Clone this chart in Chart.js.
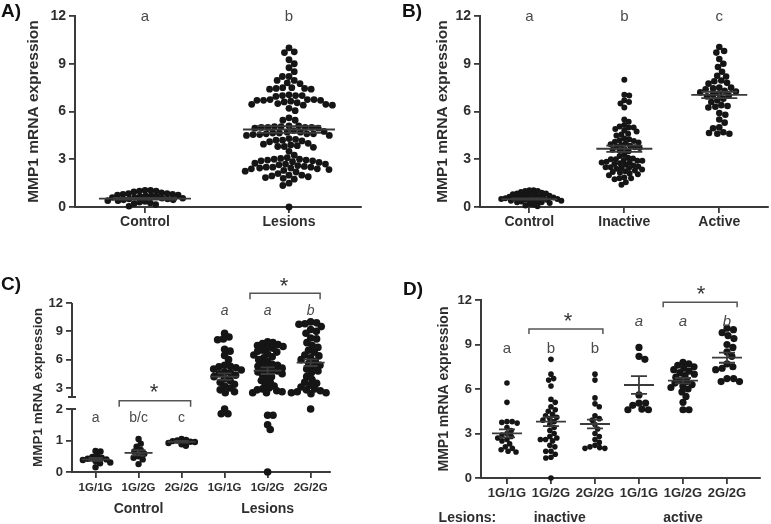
<!DOCTYPE html>
<html>
<head>
<meta charset="utf-8">
<script src="https://cdn.jsdelivr.net/npm/chart.js@4.4.1/dist/chart.umd.min.js"></script>
<style>
  body { margin: 0; background: #fff; width: 771px; height: 524px; position: relative; overflow: hidden; }
  .panel { position: absolute; }
</style>
</head>
<body>
<div class="panel" style="left:0;top:0;width:385px;height:260px"><canvas id="chartA"></canvas></div>
<div class="panel" style="left:385px;top:0;width:386px;height:260px"><canvas id="chartB"></canvas></div>
<div class="panel" style="left:0;top:260px;width:385px;height:264px"><canvas id="chartC"></canvas></div>
<div class="panel" style="left:385px;top:260px;width:386px;height:264px"><canvas id="chartD"></canvas></div>
<script>
const FONT = "'Liberation Sans', Arial, Helvetica, sans-serif";
const INK = '#2e2e2e';
const DOT = '#151515';
const LETTER = '#4a4a4a';

// Panel A
const aCategories = ['Control', 'Lesions'];
const aLetters = ['a', 'b'];
const aControl = [1.05, 1.05, 1.0, 1.0, 0.95, 0.9, 0.85, 0.85, 0.8, 0.8, 0.75, 0.75, 0.7, 0.7, 0.65, 0.65,
  0.6, 0.6, 0.55, 0.55, 0.5, 0.5, 0.45, 0.45, 0.4, 0.4, 0.35, 0.3, 0.25, 0.2, 0.15, 0.05];
const aLesions = [10.0, 9.75, 9.7, 9.25, 9.0, 8.75, 8.5, 8.2, 8.2, 7.95, 7.95, 7.8, 7.75, 7.5, 7.5, 7.45, 7.45,
  7.4, 7.4, 7.05, 7.0, 7.0, 7.0, 6.95,
  6.75, 6.75, 6.75, 6.7, 6.7, 6.7, 6.65, 6.6, 6.55, 6.5, 6.45, 6.45, 6.4, 6.4,
  6.2, 6.05, 5.6, 5.45, 5.45,
  5.1, 5.1, 5.05, 5.05, 5.0, 5.0, 5.0, 5.0, 4.95, 4.95,
  4.8, 4.75, 4.7, 4.7, 4.65, 4.65, 4.6, 4.6, 4.6, 4.55, 4.55, 4.5, 4.5,
  4.3, 4.25, 4.2, 4.2, 4.15, 4.1, 4.0, 3.95, 3.9, 3.85, 3.8, 3.8, 3.75,
  3.5, 3.25,
  3.1, 3.05, 3.0, 3.0, 2.95, 2.95, 2.9, 2.9, 2.85, 2.8, 2.75, 2.7, 2.7, 2.65, 2.6,
  2.55, 2.5, 2.5, 2.5, 2.45, 2.45, 2.4, 2.4, 2.35, 2.3, 2.25, 2.2,
  2.1, 2.0, 2.0, 1.95, 1.9, 1.85, 1.8, 1.75, 1.5, 1.35, 0.0];
const aMean = [0.52, 4.87];
const aSem = [0.05, 0.21];

// Panel B
const bCategories = ['Control', 'Inactive', 'Active'];
const bLetters = ['a', 'b', 'c'];
const bControl = [1.05, 1.05, 1.0, 1.0, 0.95, 0.9, 0.85, 0.85, 0.8, 0.8, 0.75, 0.75, 0.7, 0.7, 0.65, 0.65,
  0.6, 0.6, 0.6, 0.55, 0.55, 0.5, 0.5, 0.5, 0.45, 0.45, 0.45, 0.4, 0.4, 0.35, 0.35, 0.3, 0.3, 0.25, 0.2, 0.15, 0.1, 0.05];
const bInactive = [8.0, 7.05, 7.0, 6.7, 6.6, 6.5, 6.25, 5.5, 5.35, 5.15, 5.05, 5.0, 5.0, 4.9, 4.8, 4.75, 4.6, 4.55,
  4.5, 4.3, 4.25, 4.2, 4.15, 4.1, 4.05, 4.0, 3.95, 3.9, 3.85, 3.8, 3.75, 3.7, 3.65, 3.6, 3.55, 3.5, 3.3, 3.2,
  3.1, 3.05, 3.0, 3.0, 2.95, 2.9, 2.9, 2.85, 2.8, 2.8, 2.75, 2.7, 2.65, 2.6, 2.55, 2.5, 2.5, 2.45, 2.45, 2.4,
  2.35, 2.3, 2.25, 2.2, 2.15, 2.1, 2.05, 2.0, 1.85, 1.8, 1.8, 1.75, 1.55, 1.4];
const bActive = [10.05, 9.8, 9.7, 9.3, 9.0, 8.8, 8.5, 8.25, 8.2, 7.95, 7.9, 7.8, 7.75, 7.5, 7.5, 7.45, 7.4, 7.3,
  7.25, 7.2, 7.1, 7.05, 7.0, 6.95, 6.8, 6.7, 6.6, 6.4, 6.35, 6.3, 6.25, 5.9, 5.8, 5.5, 5.3, 5.0, 4.95, 4.7,
  4.65, 4.6, 4.6];
const bMean = [0.5, 3.66, 7.04];
const bSem = [0.04, 0.2, 0.2];

const yTicks = [0, 3, 6, 9, 12];

// Panel C (genotypes, broken y axis)
const genotypes = ['1G/1G', '1G/2G', '2G/2G', '1G/1G', '1G/2G', '2G/2G'];
const cLettersLow = ['a', 'b/c', 'c'];
const cLettersHigh = ['a', 'a', 'b'];
const cTicks = [0, 1, 2, 3, 6, 9, 12];
const cControl11 = [0.67, 0.65, 0.52, 0.48, 0.45, 0.42, 0.4, 0.38, 0.35, 0.3, 0.28, 0.15];
const cControl12 = [1.05, 0.9, 0.8, 0.7, 0.65, 0.58, 0.5, 0.45, 0.4, 0.25];
const cControl22 = [1.05, 1.02, 1.0, 0.98, 0.96, 0.95, 0.92, 0.88, 0.83];
const cLesion11 = [8.8, 8.4, 8.2, 8.1, 7.1, 6.9, 6.45, 6.0, 5.4, 5.3, 5.25, 5.15, 5.0, 4.9, 4.7, 4.6, 4.5, 4.35,
  4.2, 4.0, 3.8, 3.6, 3.4, 3.2, 3.0, 2.8, 2.6, 2.5, 2.0, 1.85, 1.85];
const cLesion12 = [7.9, 7.8, 7.7, 7.6, 7.5, 7.4, 7.3, 7.2, 7.0, 6.9, 6.8, 6.6, 6.5, 6.3, 6.2, 6.0, 5.8, 5.6, 5.5,
  5.4, 5.3, 5.2, 5.1, 5.0, 4.9, 4.8, 4.7, 4.6, 4.5, 4.4, 4.2, 4.0, 3.8, 3.6, 3.4, 3.2, 3.0, 2.9, 2.8, 2.7,
  2.6, 2.5, 2.5, 1.8, 1.8, 1.5, 1.35, 0.0];
const cLesion22 = [10.0, 9.9, 9.8, 9.75, 9.5, 9.2, 9.0, 8.8, 8.3, 8.2, 7.8, 7.5, 7.3, 7.0, 6.8, 6.5, 6.4, 6.2,
  6.0, 5.8, 5.6, 5.4, 5.2, 5.0, 4.8, 4.6, 4.2, 3.9, 3.6, 3.5, 3.3, 3.1, 2.9, 2.8, 2.7, 2.6, 2.5, 2.5, 2.4, 2.0];
const cMean = [0.4, 0.61, 0.96, 4.2, 4.83, 5.68];
const cSem = [0.05, 0.08, 0.03, 0.35, 0.35, 0.35];

// Panel D (lesion activity x genotype)
const dLettersInactive = ['a', 'b', 'b'];
const dLettersActive = ['a', 'a', 'b'];
const dInactive11 = [6.4, 5.1, 3.8, 3.8, 3.75, 3.7, 3.4, 3.2, 3.0, 2.9, 2.8, 2.7, 2.6, 2.5, 2.3, 2.1, 2.0, 1.9, 1.8, 1.75];
const dInactive12 = [8.0, 7.0, 6.7, 6.6, 6.2, 5.3, 5.1, 4.8, 4.6, 4.5, 4.3, 4.2, 4.1, 4.0, 3.9, 3.8, 3.6, 3.4, 3.2,
  3.0, 2.8, 2.7, 2.6, 2.6, 2.5, 2.2, 2.1, 1.8, 1.8, 1.6, 1.4, 1.35, 0.0];
const dInactive22 = [7.0, 6.6, 5.4, 5.0, 4.8, 4.2, 4.0, 3.9, 3.6, 3.3, 3.0, 2.8, 2.6, 2.4, 2.2, 2.1, 2.05, 2.0, 2.0];
const dActive11 = [8.8, 8.2, 8.0, 5.6, 5.05, 5.05, 4.9, 4.65, 4.6, 4.6];
const dActive12 = [7.8, 7.7, 7.6, 7.5, 7.4, 7.3, 7.2, 7.1, 7.0, 6.9, 6.8, 6.6, 6.5, 6.4, 6.3, 6.2, 6.1, 6.0, 5.8,
  5.5, 5.1, 4.6, 4.6];
const dActive22 = [10.1, 10.0, 9.8, 9.6, 9.4, 9.0, 8.8, 8.5, 8.2, 7.7, 7.5, 7.4, 7.3, 6.7, 6.7, 6.5, 6.5];
const dMean = [3.01, 3.8, 3.64, 6.27, 6.56, 8.11];
const dSem = [0.27, 0.3, 0.3, 0.6, 0.18, 0.34];

// broken axis for panel C: 0-2 stretched, 3-12 compressed
function cBreak(v) {
  return v <= 2.1 ? v * 31.5 : 84 + (v - 3) * 9.44;
}

// simple beeswarm in pixel space
function swarm(values, center, chart, tf, gap) {
  const xs = chart.scales.x, ys = chart.scales.y;
  const placed = [];
  const out = new Array(values.length);
  const order = values.map((v, i) => i).sort((i, j) => values[j] - values[i]);
  order.forEach(i => {
    const py = ys.getPixelForValue(tf(values[i]));
    const cands = [0];
    placed.forEach(p => {
      const dy = Math.abs(p.y - py);
      if (dy < gap) {
        const dx = Math.sqrt(gap * gap - dy * dy);
        cands.push(p.x + dx, p.x - dx);
      }
    });
    cands.sort((a, b) => Math.abs(a) - Math.abs(b));
    const dx = cands.find(c => placed.every(p => (p.x - c) ** 2 + (p.y - py) ** 2 >= gap * gap - 0.01));
    placed.push({ x: dx, y: py });
    out[i] = { x: xs.getValueForPixel(xs.getPixelForValue(center) + dx), y: tf(values[i]) };
  });
  return out;
}

function text(ctx, str, x, y, size, opts = {}) {
  ctx.save();
  ctx.font = `${opts.style || 'normal'} ${opts.weight || 'normal'} ${size}px ${FONT}`;
  ctx.fillStyle = opts.color || INK;
  ctx.textAlign = opts.align || 'center';
  ctx.textBaseline = 'middle';
  ctx.fillText(str, x, y);
  ctx.restore();
}

function bracket(ctx, x1, x2, y, drop) {
  ctx.save();
  ctx.strokeStyle = '#555';
  ctx.lineWidth = 1.5;
  ctx.beginPath();
  ctx.moveTo(x1, y + drop);
  ctx.lineTo(x1, y);
  ctx.lineTo(x2, y);
  ctx.lineTo(x2, y + drop);
  ctx.stroke();
  ctx.restore();
}

function makePanel(id, p) {
  const tf = p.transform || (v => v);
  const meanSem = {
    id: 'meanSem',
    afterDatasetsDraw(chart) {
      const { ctx } = chart;
      const xs = chart.scales.x, ys = chart.scales.y;
      ctx.save();
      ctx.strokeStyle = '#3a3a3a';
      ctx.lineWidth = 1.8;
      p.mean.forEach((m, i) => {
        const cx = xs.getPixelForValue(i);
        const my = ys.getPixelForValue(tf(m));
        const top = ys.getPixelForValue(tf(m + p.sem[i]));
        const bot = ys.getPixelForValue(tf(m - p.sem[i]));
        ctx.beginPath();
        ctx.moveTo(cx - p.meanHalf, my); ctx.lineTo(cx + p.meanHalf, my);
        ctx.moveTo(cx - p.semHalf, top); ctx.lineTo(cx + p.semHalf, top);
        ctx.moveTo(cx - p.semHalf, bot); ctx.lineTo(cx + p.semHalf, bot);
        ctx.moveTo(cx, top); ctx.lineTo(cx, bot);
        ctx.stroke();
      });
      ctx.restore();
    },
    afterDraw(chart) {
      const xs = chart.scales.x, ys = chart.scales.y;
      p.extras(chart.ctx, v => xs.getPixelForValue(v), v => ys.getPixelForValue(v), chart.chartArea);
    }
  };

  const chart = new Chart(document.getElementById(id), {
    type: 'scatter',
    data: {
      datasets: p.groups.map((g, i) => ({
        data: [],
        pointRadius: p.radius[i],
        pointHoverRadius: p.radius[i],
        backgroundColor: DOT,
        borderWidth: 0,
        clip: false
      }))
    },
    options: {
      responsive: true,
      maintainAspectRatio: false,
      animation: false,
      events: [],
      layout: { padding: p.padding },
      plugins: { legend: { display: false }, tooltip: { enabled: false } },
      scales: {
        x: {
          type: 'linear',
          min: p.xMin,
          max: p.xMax,
          afterBuildTicks: s => { s.ticks = p.categories.map((c, i) => ({ value: i })); },
          afterFit: s => { s.height = p.xHeight; },
          grid: { drawOnChartArea: false, tickLength: 6, color: '#3a3a3a', lineWidth: 1.8 },
          border: { color: '#3a3a3a', width: 2 },
          ticks: {
            color: INK,
            padding: p.xTickPad,
            maxRotation: 0,
            autoSkip: false,
            font: { family: FONT, size: p.xFont, weight: 'bold' },
            callback: (v, i) => p.categories[i]
          }
        },
        y: {
          type: 'linear',
          min: 0,
          max: tf(12),
          afterBuildTicks: s => { s.ticks = p.yTicks.map(v => ({ value: tf(v) })); },
          afterFit: s => { s.width = p.yWidth; },
          grid: { drawOnChartArea: false, tickLength: 6, color: '#3a3a3a', lineWidth: 1.8 },
          border: { display: !p.broken, color: '#3a3a3a', width: 2 },
          ticks: {
            color: INK,
            padding: 3,
            font: { family: FONT, size: p.yFont, weight: 'bold' },
            callback: (v, i) => String(p.yTicks[i])
          },
          title: {
            display: true,
            text: 'MMP1 mRNA expression',
            color: INK,
            font: { family: FONT, size: p.titleFont, weight: 'bold' },
            padding: { top: p.titlePad, bottom: 0 }
          }
        }
      }
    },
    plugins: [meanSem]
  });

  chart.data.datasets.forEach((ds, i) => {
    ds.data = swarm(p.groups[i], i, chart, tf, p.gap[i]);
  });
  chart.update();
  return chart;
}

// A
makePanel('chartA', {
  categories: aCategories,
  groups: [aControl, aLesions],
  mean: aMean, sem: aSem,
  radius: [3.3, 3.4], gap: [5.6, 6.6],
  meanHalf: 46, semHalf: 32,
  padding: { left: 0, top: 16, right: 24, bottom: 0 },
  xMin: -0.486, xMax: 1.5, xHeight: 53, xTickPad: 1, xFont: 14,
  yTicks: yTicks, yWidth: 75, yFont: 14, titleFont: 15.5, titlePad: 24,
  extras(ctx, X, Y) {
    text(ctx, 'A)', 1, 12, 19, { weight: 'bold', align: 'left', color: '#111' });
    aLetters.forEach((l, i) => text(ctx, l, X(i), Y(12) + 1, 15, { color: LETTER }));
  }
});

// B
makePanel('chartB', {
  categories: bCategories,
  groups: [bControl, bInactive, bActive],
  mean: bMean, sem: bSem,
  radius: [3.0, 3.0, 3.3], gap: [4.3, 5.0, 6.3],
  meanHalf: 28, semHalf: 18,
  padding: { left: 0, top: 16, right: 0, bottom: 0 },
  xMin: -0.52, xMax: 2.51, xHeight: 53, xTickPad: 1, xFont: 14,
  yTicks: yTicks, yWidth: 95, yFont: 14, titleFont: 15.5, titlePad: 48,
  extras(ctx, X, Y) {
    text(ctx, 'B)', 17, 12, 19, { weight: 'bold', align: 'left', color: '#111' });
    bLetters.forEach((l, i) => text(ctx, l, X(i), Y(12) + 1, 15, { color: LETTER }));
  }
});

// C
makePanel('chartC', {
  categories: genotypes,
  groups: [cControl11, cControl12, cControl22, cLesion11, cLesion12, cLesion22],
  mean: cMean, sem: cSem,
  radius: [3.2, 3.2, 3.2, 3.8, 3.8, 3.8], gap: [5.0, 5.2, 4.6, 5.8, 5.4, 6.0],
  meanHalf: 14, semHalf: 7,
  transform: cBreak, broken: true,
  padding: { left: 0, top: 43, right: 55, bottom: 0 },
  xMin: -0.547, xMax: 5.45, xHeight: 52, xTickPad: 3, xFont: 11.5,
  yTicks: cTicks, yWidth: 72, yFont: 13, titleFont: 13.5, titlePad: 30,
  extras(ctx, X, Y, area) {
    // broken y axis line
    const x0 = area.left;
    ctx.save();
    ctx.strokeStyle = '#3a3a3a';
    ctx.lineWidth = 2;
    ctx.beginPath();
    ctx.moveTo(x0, Y(0)); ctx.lineTo(x0, Y(63));
    ctx.moveTo(x0 - 4, Y(63)); ctx.lineTo(x0 + 4, Y(63));
    ctx.moveTo(x0, Y(169)); ctx.lineTo(x0, Y(75));
    ctx.moveTo(x0 - 4, Y(75)); ctx.lineTo(x0 + 4, Y(75));
    ctx.stroke();
    ctx.restore();
    text(ctx, 'C)', 1, 25, 19, { weight: 'bold', align: 'left', color: '#111' });
    cLettersLow.forEach((l, i) => text(ctx, l, X(i), Y(54), 14, { color: LETTER }));
    cLettersHigh.forEach((l, i) => text(ctx, l, X(i + 3), Y(161), 14, { color: LETTER, style: 'italic' }));
    bracket(ctx, X(0.55), X(2.21), Y(71.3), 6);
    text(ctx, '*', X(1.36), Y(79), 22, { color: '#333' });
    bracket(ctx, X(3.59), X(5.22), Y(178.7), 6);
    text(ctx, '*', X(4.38), Y(185), 22, { color: '#333' });
    text(ctx, 'Control', X(1), 249, 14, { weight: 'bold' });
    text(ctx, 'Lesions', X(4), 249, 14, { weight: 'bold' });
  }
});

// D
makePanel('chartD', {
  categories: genotypes,
  groups: [dInactive11, dInactive12, dInactive22, dActive11, dActive12, dActive22],
  mean: dMean, sem: dSem,
  radius: [2.8, 2.8, 2.8, 3.6, 3.6, 3.6], gap: [5.2, 5.2, 5.2, 6.6, 6.0, 6.6],
  meanHalf: 15, semHalf: 8,
  padding: { left: 0, top: 40, right: 11, bottom: 0 },
  xMin: -0.59, xMax: 5.75, xHeight: 46, xTickPad: 2, xFont: 13,
  yTicks: yTicks, yWidth: 96, yFont: 13, titleFont: 14, titlePad: 51,
  extras(ctx, X, Y) {
    text(ctx, 'D)', 18, 30, 19, { weight: 'bold', align: 'left', color: '#111' });
    dLettersInactive.forEach((l, i) => text(ctx, l, X(i), Y(8.7), 15, { color: LETTER }));
    dLettersActive.forEach((l, i) => text(ctx, l, X(i + 3), Y(10.52), 15, { color: LETTER, style: 'italic' }));
    bracket(ctx, X(0.5), X(2.18), Y(10.05), 5);
    text(ctx, '*', X(1.39), Y(10.5), 22, { color: '#333' });
    bracket(ctx, X(3.55), X(5.23), Y(11.85), 5);
    text(ctx, '*', X(4.41), Y(12.35), 22, { color: '#333' });
    text(ctx, 'Lesions:', X(-0.9), 258, 14, { weight: 'bold' });
    text(ctx, 'inactive', X(1.2), 258, 14, { weight: 'bold' });
    text(ctx, 'active', X(4), 258, 14, { weight: 'bold' });
  }
});
</script>
</body>
</html>
